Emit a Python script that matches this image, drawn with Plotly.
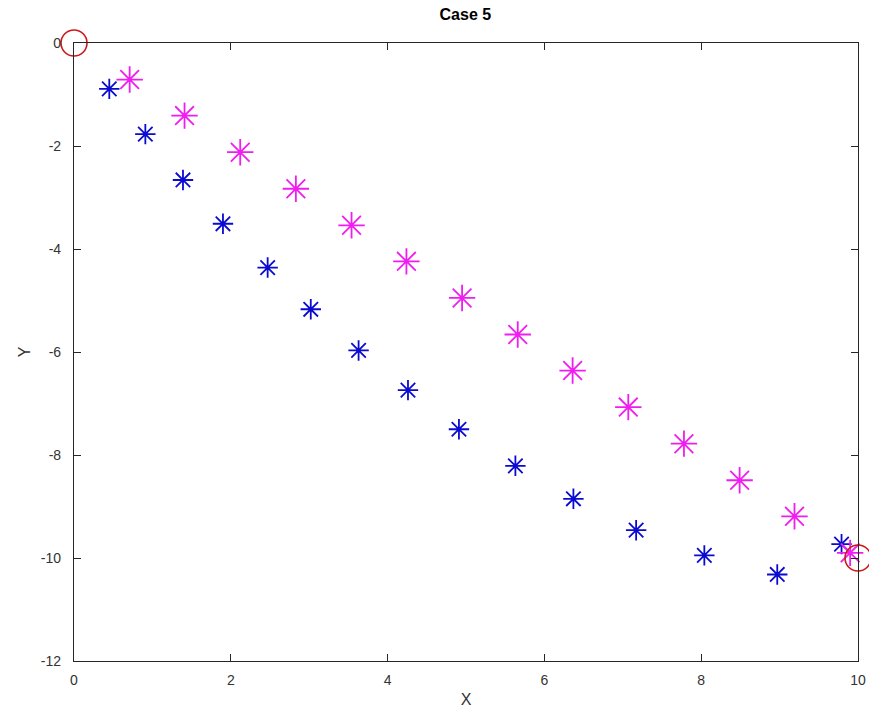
import plotly.graph_objects as go

# Data
blue_x = [0.45, 0.91, 1.39, 1.90, 2.47, 3.02, 3.63, 4.26, 4.91, 5.63, 6.37, 7.17, 8.04, 8.97, 9.79]
blue_y = [-0.89, -1.77, -2.66, -3.51, -4.36, -5.17, -5.97, -6.74, -7.50, -8.21, -8.85, -9.46, -9.95, -10.32, -9.73]

mag_x = [0.71, 1.41, 2.12, 2.83, 3.54, 4.24, 4.95, 5.66, 6.36, 7.07, 7.78, 8.49, 9.19, 9.90]
mag_y = [-0.71, -1.41, -2.12, -2.83, -3.54, -4.24, -4.95, -5.66, -6.36, -7.07, -7.78, -8.49, -9.19, -9.90]

end_x = [0, 10]
end_y = [0, -10]

x_ticks = [0, 2, 4, 6, 8, 10]
y_ticks = [0, -2, -4, -6, -8, -10, -12]

FONT = "Liberation Sans, Arial, sans-serif"

fig = go.Figure()
fig.add_trace(go.Scatter(
    x=blue_x, y=blue_y, mode="markers", cliponaxis=False,
    marker=dict(symbol="asterisk", size=17, line=dict(color="#0a0ad0", width=1.8)),
    showlegend=False))
fig.add_trace(go.Scatter(
    x=mag_x, y=mag_y, mode="markers", cliponaxis=False,
    marker=dict(symbol="asterisk", size=22, line=dict(color="#f01cf0", width=1.8)),
    showlegend=False))
fig.add_trace(go.Scatter(
    x=end_x, y=end_y, mode="markers", cliponaxis=False,
    marker=dict(symbol="circle-open", size=26, color="#d01818", line=dict(color="#d01818", width=1.6)),
    showlegend=False))

axis_common = dict(
    showgrid=False, zeroline=False, showline=True, linecolor="#262626", linewidth=1.2,
    mirror="allticks", ticks="inside", ticklen=7, tickwidth=1, tickcolor="#262626",
    tickfont=dict(family=FONT, size=14, color="#333333"), automargin=False,
)

fig.update_xaxes(range=[0, 10], tickvals=x_ticks, ticktext=[str(v) for v in x_ticks],
                 ticklabelstandoff=6,
                 title=dict(text="X", font=dict(family=FONT, size=16, color="#333333"), standoff=6),
                 **axis_common)
fig.update_yaxes(range=[-12, 0], tickvals=y_ticks, ticktext=[str(v) for v in y_ticks],
                 ticklabelstandoff=9,
                 title=dict(text="Y", font=dict(family=FONT, size=16, color="#333333"), standoff=6),
                 **axis_common)

fig.update_layout(
    width=869, height=711,
    margin=dict(l=74, r=11, t=43, b=50),
    paper_bgcolor="white", plot_bgcolor="white",
    title=dict(text="<b>Case 5</b>", x=0.5355, xanchor="center", y=0.98, yanchor="middle",
               font=dict(family=FONT, size=16, color="#000000")),
)

fig.write_html("out.html")
